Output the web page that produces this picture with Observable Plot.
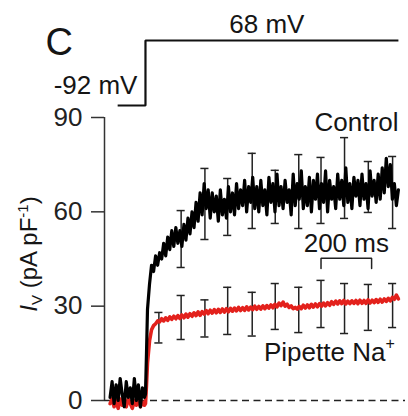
<!DOCTYPE html>
<html>
<head>
<meta charset="utf-8">
<script src="https://cdn.jsdelivr.net/npm/d3@7"></script>
<script src="https://cdn.jsdelivr.net/npm/@observablehq/plot@0.6"></script>
<style>
  html, body { margin: 0; padding: 0; background: #fff; }
  #wrap { position: relative; width: 408px; height: 416px; overflow: hidden; }
  #wrap svg { position: absolute; left: 0; top: 0; }
</style>
</head>
<body>
<div id="wrap"></div>
<script>
// ---------- data ----------
const yTicks = [0, 30, 60, 90];

// voltage protocol (ms, mV)
const protoT = [-110, 0, 0, 1000];
const protoV = [-92, -92, 68, 68];
const holdLabel = "-92 mV";
const stepLabel = "68 mV";

// sample times (ms): baseline, step onset, pulse
const baseTimes = d3.range(-140, 0, 8);
const onsetTimes = [0, 4, 8];
const pulseTimes = d3.range(16, 1001, 8);
const traceTimes = [...baseTimes, ...onsetTimes, ...pulseTimes];

// Control current density (pA/pF)
const controlI = [
  1, 6, -1, 5, 0, 7, 2, -2, 6, 1, 4, -1, 7, 0, 5, -2, 4, 1,
  2, 15, 29,
  37, 43, 41, 46, 43, 47, 45, 50,
  46, 52, 48, 54, 49, 55, 50, 54,
  49, 56, 51, 58, 53, 60, 55, 63,
  57, 66, 59, 69, 61, 67, 58, 66,
  60, 65, 57, 67, 59, 64, 58, 68,
  60, 66, 59, 69, 61, 67, 62, 70,
  60, 68, 63, 71, 61, 68, 60, 70,
  62, 67, 59, 71, 63, 69, 60, 72,
  62, 68, 61, 70, 63, 67, 59, 72,
  62, 69, 64, 73, 61, 68, 62, 71,
  60, 70, 64, 72, 61, 69, 63, 73,
  60, 70, 64, 68, 61, 72, 64, 70,
  62, 74, 63, 69, 61, 71, 65, 70,
  62, 72, 64, 69, 61, 73, 65, 70,
  63, 72, 64, 74, 66, 77, 68, 75,
  64, 69, 62, 67
];

// Pipette Na+ current density (pA/pF)
const pipetteI = [
  -1, 0.5, -2, 0, -2.5, 0.5, -1.5, 0, -2, 0.5, -1, -2.5, 0, -1.5, 0.5, -2, -0.5, -1.5,
  -1, 5, 12,
  19, 22.5, 23.8, 24.4, 25.3, 25, 26, 25.3,
  26.3, 25.5, 26.6, 25.8, 26.8, 26, 27, 26.1,
  27.2, 26.3, 27.5, 26.5, 27.6, 26.8, 27.9, 27,
  28.2, 27.1, 28.3, 27.5, 28.6, 27.6, 28.7, 27.8,
  28.9, 27.9, 29, 28, 29.1, 28.1, 29.2, 28.2,
  29.3, 28.4, 29.4, 28.5, 29.6, 28.6, 29.5, 28.7,
  29.8, 28.8, 29.7, 28.9, 30, 29, 29.9, 29.1,
  30.1, 29.2, 30.2, 29.4, 30.4, 29.5, 30.6, 29.8,
  31, 30.2, 31.3, 30, 30.6, 29.6, 30.1, 29.2,
  29.6, 29.1, 29.9, 29.2, 30.3, 29.4, 30.4, 29.5,
  30.6, 29.7, 30.7, 29.8, 30.8, 30, 31, 30.1,
  31.1, 30.3, 31.4, 30.6, 31.6, 30.7, 31.7, 30.8,
  31.8, 30.7, 31.6, 30.8, 31.7, 30.9, 31.8, 30.8,
  31.9, 30.9, 31.8, 30.9, 32, 31, 31.9, 31.1,
  32.1, 31.2, 32.2, 31.3, 32.3, 31.5, 32.5, 31.7,
  32.8, 32.2, 33.5, 32.3
];

// error bars (SEM) times and limits
const barT = [53, 141, 235, 325, 422, 513, 606, 694, 787, 881, 977];
const controlHi = [null, 60.4, 73.8, 70.6, 78.6, 73.2, 78.2, 77.3, 83.6, 76, 77.6];
const controlLo = [null, 42.3, 51.2, 52.5, 54.7, 56.3, 54.7, 56.3, 57.9, 59.8, 54.7];
const pipetteHi = [28, 33.4, 32, 36, 34.4, 37.2, 36, 38.2, 37.2, 36.9, 37.2];
const pipetteLo = [18.3, 19.4, 20.2, 21, 20.5, 22.6, 21.6, 23.2, 21.3, 22.3, 23.2];

// scale bar
const scaleBarStart = 694;
const scaleBarMs = 200;
const scaleBarLevel = 45.2;
const scaleBarLabel = "200 ms";

// ---------- build ----------
(function () {
const FONT = "'Liberation Sans', Arial, Helvetica, sans-serif";
const xDomain = [-162, 1028];
const xRange = [104, 405];
const capMs = 16;

const control = traceTimes.map((t, i) => ({t, v: controlI[i]})).filter(d => d.v != null);
const pipette = traceTimes.map((t, i) => ({t, v: pipetteI[i]})).filter(d => d.v != null);
const cBars = barT.map((t, i) => ({t, hi: controlHi[i], lo: controlLo[i]})).filter(d => d.hi != null);
const pBars = barT.map((t, i) => ({t, hi: pipetteHi[i], lo: pipetteLo[i]}));
const allBars = [...pBars, ...cBars];
const caps = allBars.flatMap(d => [{t: d.t, y: d.hi}, {t: d.t, y: d.lo}]);
const proto = protoT.map((t, i) => ({t, v: protoV[i]}));
const scaleBar = [
  {t: scaleBarStart, v: scaleBarLevel - 3.2},
  {t: scaleBarStart, v: scaleBarLevel},
  {t: scaleBarStart + scaleBarMs, v: scaleBarLevel},
  {t: scaleBarStart + scaleBarMs, v: scaleBarLevel - 3.2}
];

const ink = "#151515";

const mainPlot = Plot.plot({
  width: 408, height: 416,
  marginLeft: 104, marginRight: 3, marginTop: 117, marginBottom: 16,
  x: {domain: xDomain, range: xRange, axis: null},
  y: {domain: [0, 90], range: [400, 117], axis: null},
  style: {fontFamily: FONT, fontSize: "26px", color: ink, background: "transparent", overflow: "visible"},
  marks: [
    Plot.axisY(yTicks, {tickSize: 13, tickPadding: 9, strokeWidth: 1.5, stroke: "#333", fontSize: 26, label: null, fill: "#222"}),
    Plot.ruleX([xDomain[0]], {y1: 0, y2: 90, stroke: "#333", strokeWidth: 1.5}),
    Plot.ruleY([0], {stroke: "#222", strokeWidth: 1.4, strokeDasharray: "7,4.5"}),
    Plot.ruleX(allBars, {x: "t", y1: "lo", y2: "hi", stroke: "#222", strokeWidth: 1.5}),
    Plot.ruleY(caps, {y: "y", x1: d => d.t - capMs, x2: d => d.t + capMs, stroke: "#222", strokeWidth: 1.5}),
    Plot.line(pipette, {x: "t", y: "v", stroke: "#e3211c", strokeWidth: 3.6, strokeLinejoin: "round"}),
    Plot.line(control, {x: "t", y: "v", stroke: "#000", strokeWidth: 3.2, strokeLinejoin: "round"}),
    Plot.line(scaleBar, {x: "t", y: "v", stroke: "#222", strokeWidth: 1.5, strokeLinejoin: "miter"}),
    Plot.text([scaleBarLabel], {x: scaleBarStart + scaleBarMs / 2, y: scaleBarLevel, dy: -15, fontSize: 26, fill: ink}),
    Plot.text(["Control"], {x: 1000, y: 90, dy: 5, textAnchor: "end", fontSize: 26, fill: ink})
  ]
});

const protoPlot = Plot.plot({
  width: 408, height: 416,
  marginLeft: 104, marginRight: 3, marginTop: 0, marginBottom: 0,
  x: {domain: xDomain, range: xRange, axis: null},
  y: {domain: [-92, 68], range: [105, 40], axis: null},
  style: {fontFamily: FONT, fontSize: "26px", color: ink, background: "transparent", overflow: "visible"},
  marks: [
    Plot.line(proto, {x: "t", y: "v", stroke: "#111", strokeWidth: 2.2, strokeLinejoin: "miter", strokeLinecap: "butt"}),
    Plot.text([stepLabel], {x: 480, y: 68, dy: -16, fontSize: 26, fill: ink}),
    Plot.text([holdLabel], {x: 0, y: -92, dx: -8, dy: -20, textAnchor: "end", fontSize: 26, fill: ink}),
    Plot.text(["C"], {frameAnchor: "top-left", lineAnchor: "middle", dx: -59, dy: 42, textAnchor: "start", fontSize: 38, fill: ink})
  ]
});

const wrap = document.getElementById("wrap");
wrap.appendChild(mainPlot);
wrap.appendChild(protoPlot);

// rich-text labels (sub/superscripts)
const svg = d3.select(mainPlot);
const yl = svg.append("text")
  .attr("transform", "translate(37,254) rotate(-90)")
  .attr("text-anchor", "middle")
  .attr("font-family", FONT)
  .attr("font-size", 24)
  .attr("fill", ink);
yl.append("tspan").attr("font-style", "italic").text("I");
yl.append("tspan").attr("font-size", 15).attr("dy", 5).text("V");
yl.append("tspan").attr("dy", -5).text(" (pA pF");
yl.append("tspan").attr("font-size", 15).attr("dy", -9).text("-1");
yl.append("tspan").attr("dy", 9).text(")");

const pl = svg.append("text")
  .attr("x", 264).attr("y", 361)
  .attr("text-anchor", "start")
  .attr("font-family", FONT)
  .attr("font-size", 26)
  .attr("fill", ink);
pl.append("tspan").text("Pipette Na");
pl.append("tspan").attr("font-size", 16).attr("dy", -12).text("+");
})();
</script>
</body>
</html>
